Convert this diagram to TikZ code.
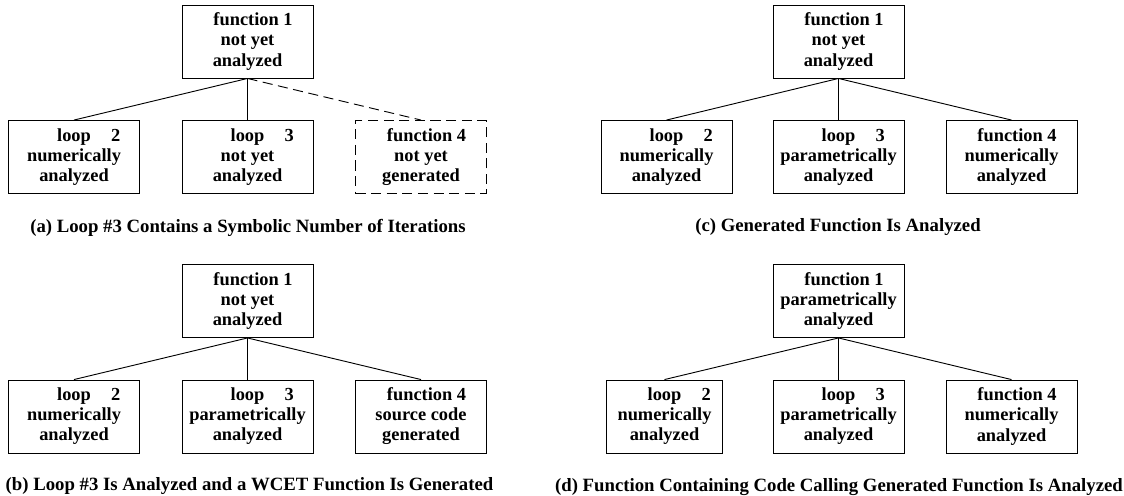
\documentclass[tikz,border=0pt]{standalone}
\usepackage{fontspec}
\setmainfont{Liberation Serif}
\tikzset{
  every picture/.style={font=\bfseries\fontsize{10}{10.9}\selectfont, line width=0.5pt, x=0.544pt, y=-0.544pt},
  box/.style={draw, minimum width=71.3pt, minimum height=39.7pt, inner sep=0pt, align=center,
    execute at begin node={\rule{0pt}{11.6pt}}},
  pending/.style={box, dash pattern=on 5.5pt off 3pt},
  caption/.style={anchor=base, inner sep=0pt, font=\bfseries\fontsize{10.2}{12}\selectfont},
}

\begin{document}
\begin{tikzpicture}
  \useasboundingbox (0,0) rectangle (1124,495);
  % (a)
  \node[box] (a1) at (247.5,41.5) {\hspace*{6pt}function 1\\not yet\\analyzed};
  \node[box] (a2) at (74,157) {\hspace*{16pt}loop\hspace{11pt}2\\numerically\\analyzed};
  \node[box] (a3) at (247.5,157) {\hspace*{16pt}loop\hspace{11pt}3\\not yet\\analyzed};
  \node[pending] (a4) at (421,157) {\hspace*{6pt}function 4\\not yet\\generated};
  \draw (a1.south) -- (a2.north);
  \draw (a1.south) -- (a3.north);
  \draw[dash pattern=on 5.5pt off 3pt] (a1.south) -- (a4.north);
  \node[caption] (capa) at (248,232) {(a) Loop \#3 Contains a Symbolic Number of Iterations};
  % (b)
  \node[box] (b1) at (247.5,301) {\hspace*{6pt}function 1\\not yet\\analyzed};
  \node[box] (b2) at (74,416.5) {\hspace*{16pt}loop\hspace{11pt}2\\numerically\\analyzed};
  \node[box] (b3) at (247.5,416.5) {\hspace*{16pt}loop\hspace{11pt}3\\parametrically\\analyzed};
  \node[box] (b4) at (421,416.5) {\hspace*{6pt}function 4\\source code\\generated};
  \foreach \k in {2,3,4} \draw (b1.south) -- (b\k.north);
  \node[caption] (capb) at (249.5,490) {(b) Loop \#3 Is Analyzed and a WCET Function Is Generated};
  % (c)
  \node[box] (c1) at (838.5,41.5) {\hspace*{6pt}function 1\\not yet\\analyzed};
  \node[box] (c2) at (666.5,157) {\hspace*{16pt}loop\hspace{11pt}2\\numerically\\analyzed};
  \node[box] (c3) at (838.5,157) {\hspace*{16pt}loop\hspace{11pt}3\\parametrically\\analyzed};
  \node[box] (c4) at (1011.5,157) {\hspace*{6pt}function 4\\numerically\\analyzed};
  \foreach \k in {2,3,4} \draw (c1.south) -- (c\k.north);
  \node[caption] (capc) at (838,231) {(c) Generated Function Is Analyzed};
  % (d)
  \node[box] (d1) at (838.5,301) {\hspace*{6pt}function 1\\parametrically\\analyzed};
  \node[box, minimum width=63pt] (d2) at (664.5,416.5) {\hspace*{16pt}loop\hspace{11pt}2\\numerically\\analyzed};
  \node[box] (d3) at (838.5,416.5) {\hspace*{16pt}loop\hspace{11pt}3\\parametrically\\analyzed};
  \node[box] (d4) at (1011.5,416.5) {\hspace*{6pt}function 4\\numerically\\analyzed};
  \foreach \k in {2,3,4} \draw (d1.south) -- (d\k.north);
  \node[caption] (capd) at (839,491) {(d) Function Containing Code Calling Generated Function Is Analyzed};
\end{tikzpicture}
\end{document}
